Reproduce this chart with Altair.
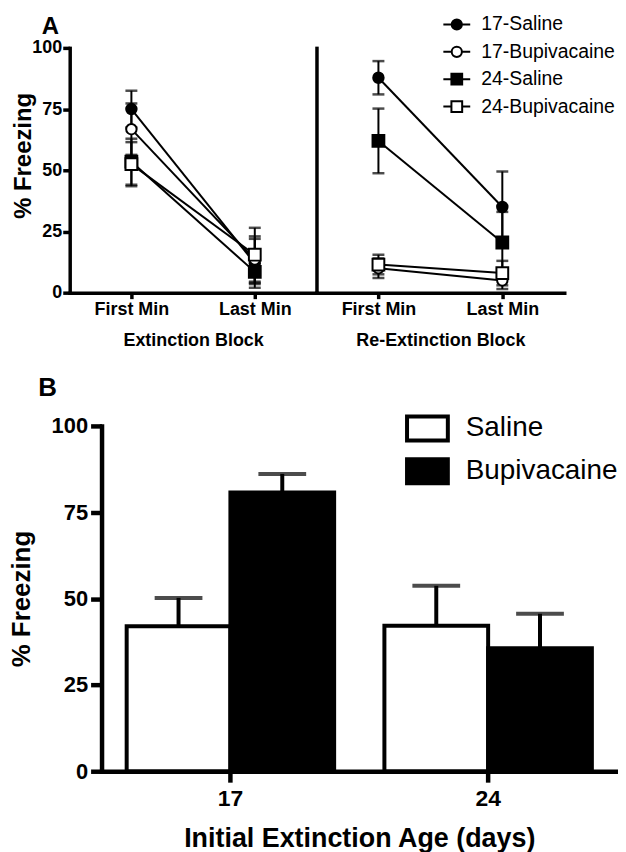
import altair as alt
import pandas as pd

FONT = "Liberation Sans"

# ---------------- Panel A data ----------------
series = ["17-Saline", "17-Bupivacaine", "24-Saline", "24-Bupivacaine"]
minutes = ["First Min", "Last Min"]
blocks = ["Extinction Block", "Re-Extinction Block"]

ext_first_mean = [75.0, 66.8, 53.5, 52.5]
ext_first_sem = [7.5, 10.5, 9.4, 9.0]
ext_last_mean = [12.0, 13.5, 8.5, 15.5]
ext_last_sem = [10.0, 9.5, 5.0, 11.0]
re_first_mean = [87.8, 10.0, 62.0, 11.5]
re_first_sem = [6.8, 4.0, 13.2, 4.0]
re_last_mean = [35.0, 5.0, 20.5, 8.0]
re_last_sem = [14.5, 3.5, 12.5, 5.0]

# ---------------- Panel B data ----------------
ages = ["17", "24"]
treatments = ["Saline", "Bupivacaine"]
saline_mean = [42.0, 42.1]
saline_sem = [8.2, 11.6]
bupi_mean = [80.7, 35.6]
bupi_sem = [5.4, 10.0]

rowsA = []
for block, mins in [
    (blocks[0], [(minutes[0], ext_first_mean, ext_first_sem), (minutes[1], ext_last_mean, ext_last_sem)]),
    (blocks[1], [(minutes[0], re_first_mean, re_first_sem), (minutes[1], re_last_mean, re_last_sem)]),
]:
    for minute, means, sems in mins:
        for s, m, e in zip(series, means, sems):
            rowsA.append({"block": block, "minute": minute, "series": s, "mean": m,
                          "lo": max(m - e, 0), "hi": m + e})
dfA = pd.DataFrame(rowsA)

rowsB = []
for t, means, sems in [(treatments[0], saline_mean, saline_sem), (treatments[1], bupi_mean, bupi_sem)]:
    for a, m, e in zip(ages, means, sems):
        rowsB.append({"age": a, "treatment": t, "mean": m, "hi": m + e})
dfB = pd.DataFrame(rowsB)

open_c = "M-1,0H-0.38M0.38,0H1M-0.38,0A0.38,0.38,0,1,1,0.38,0A0.38,0.38,0,1,1,-0.38,0Z"
open_s = "M-1,0H-0.4M0.4,0H1M-0.4,-0.4H0.4V0.4H-0.4Z"

AX_W = 3.5


def a_panel(block, first, width):
    d = dfA[dfA.block == block]
    base = alt.Chart(d)
    fill_scale_A = alt.Scale(domain=series, range=["black", "white", "black", "white"])
    xaxis = alt.Axis(title=block, labelAngle=0, labelFontSize=18, labelFontWeight="bold",
                     titleFontSize=18, titleFontWeight="bold", tickSize=6, tickWidth=AX_W,
                     domainWidth=AX_W, labelPadding=2, titlePadding=13)
    x = alt.X("minute:N", sort=minutes,
              scale=alt.Scale(type="point", padding=0.5, domain=minutes), axis=xaxis)
    if first:
        yaxis = alt.Axis(values=[0, 25, 50, 75, 100], title="%  Freezing", labelFontSize=18,
                         labelFontWeight="bold", titleFontSize=24, titleFontWeight="bold",
                         tickSize=7, tickWidth=AX_W, domainWidth=AX_W, labelPadding=1,
                         titlePadding=6, titleX=-34, titleY=108)
    else:
        yaxis = alt.Axis(values=[0, 25, 50, 75, 100], labels=False, ticks=False, title="",
                         domainWidth=AX_W)
    yscale = alt.Scale(domain=[0, 100])
    y = alt.Y("mean:Q", scale=yscale, axis=yaxis)
    ylo = alt.Y("lo:Q", scale=yscale, axis=yaxis)
    yhi = alt.Y("hi:Q", scale=yscale, axis=yaxis)

    if first:
        leg = None
    else:
        leg = alt.Legend(title=None, orient="none", legendX=126.5, legendY=-38,
                         labelFont=FONT, labelFontSize=19.5, labelColor="black",
                         labelOffset=10, symbolSize=729, symbolStrokeWidth=2,
                         symbolStrokeColor="black", rowPadding=3.5, padding=0)

    lines = base.mark_line(color="black", strokeWidth=2).encode(x=x, y=y, detail="series:N")
    err = base.mark_rule(color="black", strokeWidth=2).encode(x=x, y=ylo, y2="hi:Q")
    cap_hi = base.mark_tick(color="black", size=12, thickness=2.5, orient="horizontal").encode(
        x=x, y=yhi)
    cap_lo = base.mark_tick(color="black", size=12, thickness=2.5, orient="horizontal").encode(
        x=x, y=ylo)
    circles = base.transform_filter("indexof(datum.series, '17') == 0").mark_point(
        shape="circle", size=110, stroke="black", strokeWidth=2, opacity=1).encode(
        x=x, y=y, fill=alt.Fill("series:N", scale=fill_scale_A, legend=leg))
    squares = base.transform_filter("indexof(datum.series, '24') == 0").mark_point(
        shape="square", size=140, stroke="black", strokeWidth=2, opacity=1).encode(
        x=x, y=y, fill=alt.Fill("series:N", scale=fill_scale_A, legend=leg))
    layers = [lines, err, cap_hi, cap_lo, circles, squares]
    if not first:
        shape_scale_A = alt.Scale(domain=series, range=[open_c, open_c, open_s, open_s])
        legend_layer = base.transform_filter("false").mark_point(
            stroke="black", strokeWidth=2, opacity=1).encode(
            x=x, y=y,
            shape=alt.Shape("series:N", scale=shape_scale_A, legend=leg),
            fill=alt.Fill("series:N", scale=fill_scale_A, legend=leg))
        layers.append(legend_layer)
    ch = alt.layer(*layers).properties(width=width, height=246)
    if first:
        ch = ch.properties(title=alt.Title("A", anchor="start", fontSize=24, fontWeight="bold",
                                           font=FONT, color="black", dx=30, offset=0))
    return ch


chartA = alt.hconcat(a_panel(blocks[0], True, 248), a_panel(blocks[1], False, 249),
                     spacing=0, bounds="flush").resolve_scale(
    fill="independent", shape="independent").resolve_legend(
    fill="independent", shape="independent")

# ---------------- Panel B ----------------
baseB = alt.Chart(dfB)
B_W = 4.5
xB = alt.X("age:N", sort=ages, scale=alt.Scale(paddingInner=0.195, paddingOuter=0.0975),
           axis=alt.Axis(title="Initial Extinction Age (days)", labelAngle=0, labelFontSize=23,
                         labelFontWeight="bold", titleFontSize=27, titleFontWeight="bold",
                         tickSize=11, tickWidth=B_W, domainWidth=B_W, labelPadding=5,
                         titlePadding=16))
xoB = alt.XOffset("treatment:N", sort=treatments,
                  scale=alt.Scale(domain=treatments, paddingInner=0, paddingOuter=0))
yscaleB = alt.Scale(domain=[0, 100])
yaxisB = alt.Axis(values=[0, 25, 50, 75, 100], title="%  Freezing", labelFontSize=22,
                  labelFontWeight="bold", titleFontSize=26, titleFontWeight="bold",
                  tickSize=11, tickWidth=B_W, domainWidth=B_W, labelPadding=3,
                  titleX=-67.7)
yB = alt.Y("mean:Q", scale=yscaleB, axis=yaxisB)
legB = alt.Legend(title=None, orient="none", legendX=343, legendY=-14, labelFont=FONT,
                  labelFontSize=28, labelColor="black", labelOffset=22,
                  symbolType="M-1.414,-0.83H1.414V0.83H-1.414Z", symbolSize=841,
                  symbolStrokeWidth=4, symbolStrokeColor="black", rowPadding=2, padding=0)
bars = baseB.mark_bar(stroke="black", strokeWidth=4).encode(
    x=xB, xOffset=xoB, y=yB,
    fill=alt.Fill("treatment:N", scale=alt.Scale(domain=treatments, range=["white", "black"]),
                  legend=legB))
errB = baseB.mark_rule(color="black", strokeWidth=4).encode(
    x=xB, xOffset=xoB, y=yB, y2="hi:Q")
capB = baseB.mark_tick(color="black", size=48, thickness=4, orient="horizontal").encode(
    x=xB, xOffset=xoB, y=alt.Y("hi:Q", scale=yscaleB, axis=yaxisB))
chartB = alt.layer(errB, capB, bars).properties(
    width=518, height=347,
    title=alt.Title("B", anchor="start", fontSize=26, fontWeight="bold", font=FONT,
                    color="black", dx=30, offset=13.7))

# empty layout spacer so that panel B's plot sits further right than panel A's
spacer = alt.Chart(pd.DataFrame({"v": [0]})).mark_point(opacity=0).encode(
    x=alt.X("v:Q", axis=None), y=alt.Y("v:Q", axis=None)).properties(width=31.7, height=347)
rowB = alt.hconcat(spacer, chartB, spacing=0, bounds="flush")

chart = alt.vconcat(chartA, rowB, spacing=379.9, bounds="flush").resolve_scale(
    fill="independent", shape="independent").resolve_legend(
    fill="independent", shape="independent").properties(
    padding={"left": 0, "top": 0, "right": 0, "bottom": 0}
).configure(font=FONT).configure_view(stroke=None).configure_axis(
    grid=False, domainColor="black", tickColor="black", labelColor="black",
    titleColor="black", labelFont=FONT, titleFont=FONT, domainCap="square")

chart.save("out.html", embed_options={"renderer": "svg", "actions": False})
